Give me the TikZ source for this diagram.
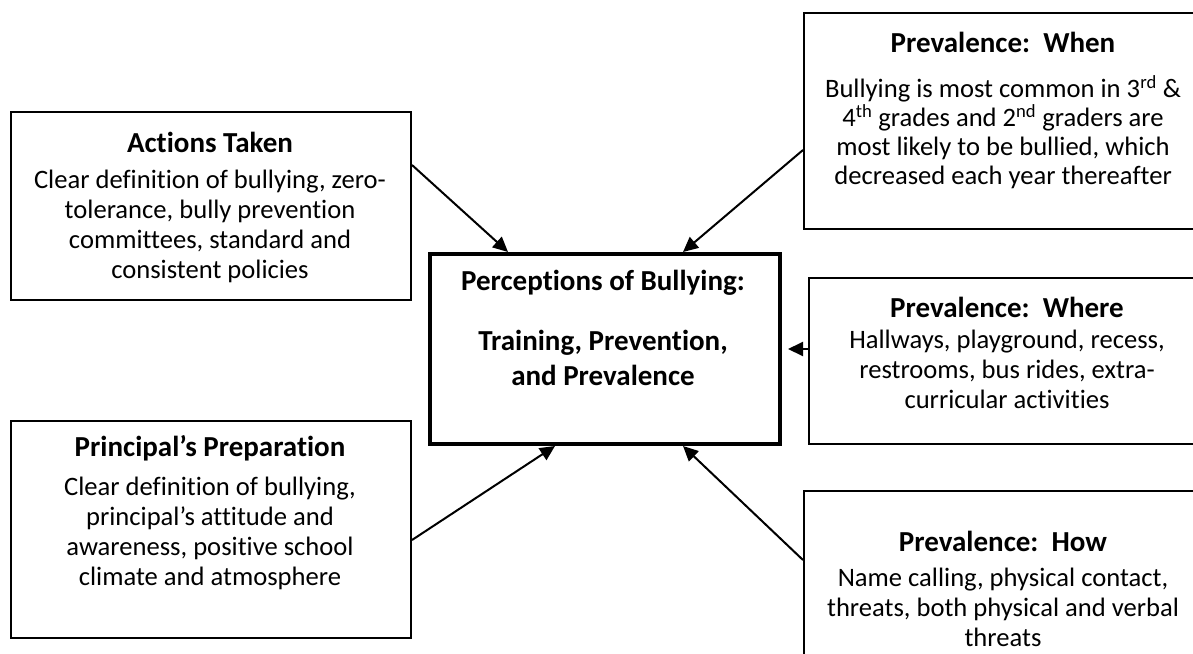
\documentclass[tikz,border=0pt]{standalone}
\usepackage{fontspec}
\setmainfont{Carlito}[Ligatures=NoCommon]
\usetikzlibrary{calc,arrows.meta}
\begin{document}
\begin{tikzpicture}[x=1pt,y=1pt,
  box/.style={draw, line width=2pt, rectangle, inner sep=0pt, anchor=north west},
  cbox/.style={draw, line width=4pt, rectangle, inner sep=0pt, anchor=north west},
  ttl/.style={font=\fontsize{29}{35}\selectfont\bfseries, align=center, inner sep=0pt},
  body/.style={font=\fontsize{26.6}{30}\selectfont, align=center, inner sep=0pt, anchor=north},
  arr/.style={line width=2pt, -{Triangle[length=15pt,width=14pt]}}]
\useasboundingbox (0,0) rectangle (1193,-653);
\begin{scope}
\clip (0,0) rectangle (1193,-653);
% boxes
\node[box, minimum width=400pt, minimum height=188pt] (act) at (10,-111) {};
\node[box, minimum width=400pt, minimum height=217pt] (prin) at (10,-420) {};
\node[cbox, minimum width=350pt, minimum height=190pt] (cen) at (428,-252) {};
\node[box, minimum width=410pt, minimum height=216pt] (when) at (803,-12) {};
\node[box, minimum width=410pt, minimum height=166pt] (where) at (808,-277) {};
\node[box, minimum width=410pt, minimum height=200pt] (how) at (803,-490) {};
\end{scope}
% texts
\node[ttl] (actT) at (210,-142) {Actions Taken};
\node[body] (actB) at (210,-170) {Clear definition of bullying, zero-\\tolerance, bully prevention\\committees, standard and\\consistent policies};
\node[ttl] (prinT) at (210,-448) {Principal’s Preparation};
\node[body] (prinB) at (210,-477) {Clear definition of bullying,\\principal’s attitude and\\awareness, positive school\\climate and atmosphere};
\node[ttl] (whenT) at (1003,-42) {Prevalence:\ \ When};
\node[body, font=\fontsize{26.6}{29}\selectfont] (whenB) at (1003,-75) {Bullying is most common in 3\textsuperscript{rd} \&\\4\textsuperscript{th} grades and 2\textsuperscript{nd} graders are\\most likely to be bullied, which\\decreased each year thereafter};
\node[ttl] (whereT) at (1007,-307) {Prevalence:\ \ Where};
\node[body] (whereB) at (1007,-330) {Hallways, playground, recess,\\restrooms, bus rides, extra-\\curricular activities};
\node[ttl] (howT) at (1003,-541) {Prevalence:\ \ How};
\node[body] (howB) at (1003,-568) {Name calling, physical contact,\\threats, both physical and verbal\\threats};
\node[ttl] (cenT1) at (603,-283) {Perceptions of Bullying:};
\node[ttl, anchor=north] (cenT2) at (603,-330) {Training, Prevention,\\and Prevalence};
% arrows
\draw[arr] ($(act.north east)+(0,-54)$) -- ($(cen.north west)+(80,0)$);
\draw[arr] ($(when.north west)+(0,-138)$) -- ($(cen.north west)+(255,0)$);
\draw[arr, shorten >=6pt] (where.west |- cen.east) -- (cen.east);
\draw[arr] ($(prin.north east)+(0,-120)$) -- ($(cen.south west)+(127,0)$);
\draw[arr] ($(how.north west)+(0,-70)$) -- ($(cen.south west)+(255,0)$);
\end{tikzpicture}
\end{document}
